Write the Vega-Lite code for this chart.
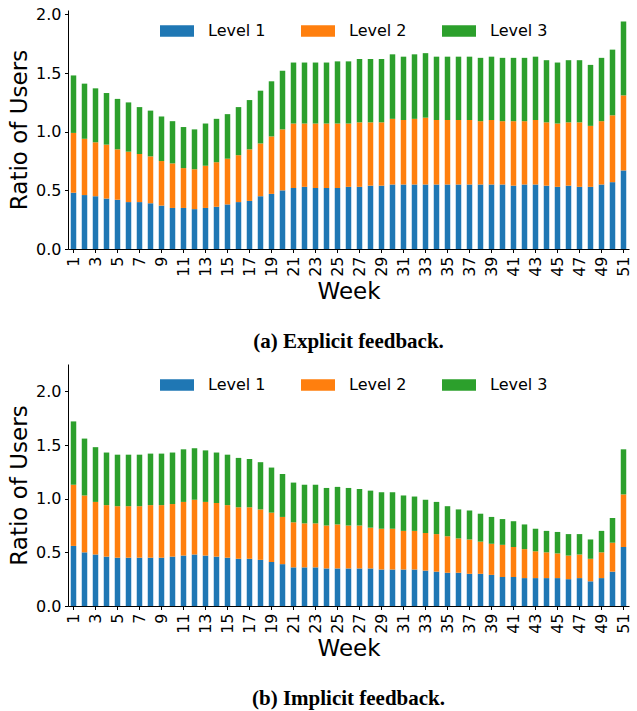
{
  "$schema": "https://vega.github.io/schema/vega-lite/v6.json",
  "background": "white",
  "padding": {"left": 8, "top": 6, "right": 5, "bottom": 0},
  "spacing": 11,
  "datasets": {
    "explicit": [
      {"week":1,"Level 1":0.48,"Level 2":0.51,"Level 3":0.49},
      {"week":2,"Level 1":0.46,"Level 2":0.48,"Level 3":0.47},
      {"week":3,"Level 1":0.45,"Level 2":0.46,"Level 3":0.46},
      {"week":4,"Level 1":0.43,"Level 2":0.46,"Level 3":0.44},
      {"week":5,"Level 1":0.42,"Level 2":0.43,"Level 3":0.43},
      {"week":6,"Level 1":0.40,"Level 2":0.43,"Level 3":0.42},
      {"week":7,"Level 1":0.40,"Level 2":0.41,"Level 3":0.40},
      {"week":8,"Level 1":0.39,"Level 2":0.40,"Level 3":0.39},
      {"week":9,"Level 1":0.37,"Level 2":0.38,"Level 3":0.38},
      {"week":10,"Level 1":0.35,"Level 2":0.38,"Level 3":0.36},
      {"week":11,"Level 1":0.35,"Level 2":0.34,"Level 3":0.35},
      {"week":12,"Level 1":0.34,"Level 2":0.34,"Level 3":0.34},
      {"week":13,"Level 1":0.35,"Level 2":0.36,"Level 3":0.36},
      {"week":14,"Level 1":0.36,"Level 2":0.38,"Level 3":0.37},
      {"week":15,"Level 1":0.38,"Level 2":0.39,"Level 3":0.38},
      {"week":16,"Level 1":0.40,"Level 2":0.40,"Level 3":0.41},
      {"week":17,"Level 1":0.41,"Level 2":0.44,"Level 3":0.42},
      {"week":18,"Level 1":0.45,"Level 2":0.45,"Level 3":0.45},
      {"week":19,"Level 1":0.47,"Level 2":0.49,"Level 3":0.47},
      {"week":20,"Level 1":0.50,"Level 2":0.52,"Level 3":0.50},
      {"week":21,"Level 1":0.52,"Level 2":0.55,"Level 3":0.52},
      {"week":22,"Level 1":0.53,"Level 2":0.54,"Level 3":0.52},
      {"week":23,"Level 1":0.52,"Level 2":0.55,"Level 3":0.52},
      {"week":24,"Level 1":0.52,"Level 2":0.55,"Level 3":0.52},
      {"week":25,"Level 1":0.52,"Level 2":0.55,"Level 3":0.53},
      {"week":26,"Level 1":0.53,"Level 2":0.54,"Level 3":0.53},
      {"week":27,"Level 1":0.53,"Level 2":0.55,"Level 3":0.54},
      {"week":28,"Level 1":0.54,"Level 2":0.54,"Level 3":0.54},
      {"week":29,"Level 1":0.54,"Level 2":0.54,"Level 3":0.54},
      {"week":30,"Level 1":0.55,"Level 2":0.56,"Level 3":0.55},
      {"week":31,"Level 1":0.55,"Level 2":0.55,"Level 3":0.54},
      {"week":32,"Level 1":0.55,"Level 2":0.56,"Level 3":0.55},
      {"week":33,"Level 1":0.55,"Level 2":0.57,"Level 3":0.55},
      {"week":34,"Level 1":0.55,"Level 2":0.55,"Level 3":0.54},
      {"week":35,"Level 1":0.55,"Level 2":0.55,"Level 3":0.54},
      {"week":36,"Level 1":0.55,"Level 2":0.55,"Level 3":0.54},
      {"week":37,"Level 1":0.55,"Level 2":0.55,"Level 3":0.54},
      {"week":38,"Level 1":0.55,"Level 2":0.54,"Level 3":0.54},
      {"week":39,"Level 1":0.55,"Level 2":0.55,"Level 3":0.54},
      {"week":40,"Level 1":0.55,"Level 2":0.54,"Level 3":0.54},
      {"week":41,"Level 1":0.54,"Level 2":0.55,"Level 3":0.54},
      {"week":42,"Level 1":0.55,"Level 2":0.54,"Level 3":0.54},
      {"week":43,"Level 1":0.55,"Level 2":0.55,"Level 3":0.54},
      {"week":44,"Level 1":0.54,"Level 2":0.54,"Level 3":0.53},
      {"week":45,"Level 1":0.53,"Level 2":0.54,"Level 3":0.52},
      {"week":46,"Level 1":0.54,"Level 2":0.54,"Level 3":0.53},
      {"week":47,"Level 1":0.53,"Level 2":0.55,"Level 3":0.53},
      {"week":48,"Level 1":0.53,"Level 2":0.52,"Level 3":0.52},
      {"week":49,"Level 1":0.55,"Level 2":0.54,"Level 3":0.54},
      {"week":50,"Level 1":0.57,"Level 2":0.57,"Level 3":0.56},
      {"week":51,"Level 1":0.67,"Level 2":0.64,"Level 3":0.63}
    ],
    "implicit": [
      {"week":1,"Level 1":0.56,"Level 2":0.57,"Level 3":0.59},
      {"week":2,"Level 1":0.50,"Level 2":0.53,"Level 3":0.53},
      {"week":3,"Level 1":0.48,"Level 2":0.49,"Level 3":0.51},
      {"week":4,"Level 1":0.46,"Level 2":0.48,"Level 3":0.49},
      {"week":5,"Level 1":0.45,"Level 2":0.48,"Level 3":0.48},
      {"week":6,"Level 1":0.45,"Level 2":0.48,"Level 3":0.48},
      {"week":7,"Level 1":0.45,"Level 2":0.48,"Level 3":0.48},
      {"week":8,"Level 1":0.45,"Level 2":0.49,"Level 3":0.48},
      {"week":9,"Level 1":0.45,"Level 2":0.49,"Level 3":0.48},
      {"week":10,"Level 1":0.46,"Level 2":0.49,"Level 3":0.48},
      {"week":11,"Level 1":0.47,"Level 2":0.50,"Level 3":0.49},
      {"week":12,"Level 1":0.48,"Level 2":0.51,"Level 3":0.48},
      {"week":13,"Level 1":0.47,"Level 2":0.50,"Level 3":0.48},
      {"week":14,"Level 1":0.46,"Level 2":0.50,"Level 3":0.47},
      {"week":15,"Level 1":0.45,"Level 2":0.49,"Level 3":0.47},
      {"week":16,"Level 1":0.44,"Level 2":0.48,"Level 3":0.46},
      {"week":17,"Level 1":0.44,"Level 2":0.48,"Level 3":0.45},
      {"week":18,"Level 1":0.43,"Level 2":0.47,"Level 3":0.44},
      {"week":19,"Level 1":0.41,"Level 2":0.46,"Level 3":0.42},
      {"week":20,"Level 1":0.39,"Level 2":0.44,"Level 3":0.40},
      {"week":21,"Level 1":0.36,"Level 2":0.42,"Level 3":0.37},
      {"week":22,"Level 1":0.36,"Level 2":0.41,"Level 3":0.36},
      {"week":23,"Level 1":0.36,"Level 2":0.41,"Level 3":0.36},
      {"week":24,"Level 1":0.35,"Level 2":0.40,"Level 3":0.35},
      {"week":25,"Level 1":0.35,"Level 2":0.41,"Level 3":0.35},
      {"week":26,"Level 1":0.35,"Level 2":0.40,"Level 3":0.35},
      {"week":27,"Level 1":0.35,"Level 2":0.40,"Level 3":0.34},
      {"week":28,"Level 1":0.35,"Level 2":0.38,"Level 3":0.345},
      {"week":29,"Level 1":0.34,"Level 2":0.38,"Level 3":0.34},
      {"week":30,"Level 1":0.34,"Level 2":0.38,"Level 3":0.34},
      {"week":31,"Level 1":0.34,"Level 2":0.36,"Level 3":0.33},
      {"week":32,"Level 1":0.34,"Level 2":0.36,"Level 3":0.32},
      {"week":33,"Level 1":0.33,"Level 2":0.35,"Level 3":0.31},
      {"week":34,"Level 1":0.32,"Level 2":0.35,"Level 3":0.30},
      {"week":35,"Level 1":0.31,"Level 2":0.34,"Level 3":0.28},
      {"week":36,"Level 1":0.31,"Level 2":0.32,"Level 3":0.27},
      {"week":37,"Level 1":0.30,"Level 2":0.32,"Level 3":0.27},
      {"week":38,"Level 1":0.30,"Level 2":0.30,"Level 3":0.26},
      {"week":39,"Level 1":0.29,"Level 2":0.29,"Level 3":0.25},
      {"week":40,"Level 1":0.27,"Level 2":0.30,"Level 3":0.24},
      {"week":41,"Level 1":0.27,"Level 2":0.28,"Level 3":0.24},
      {"week":42,"Level 1":0.26,"Level 2":0.27,"Level 3":0.23},
      {"week":43,"Level 1":0.26,"Level 2":0.25,"Level 3":0.21},
      {"week":44,"Level 1":0.26,"Level 2":0.24,"Level 3":0.20},
      {"week":45,"Level 1":0.26,"Level 2":0.23,"Level 3":0.20},
      {"week":46,"Level 1":0.25,"Level 2":0.22,"Level 3":0.20},
      {"week":47,"Level 1":0.26,"Level 2":0.22,"Level 3":0.19},
      {"week":48,"Level 1":0.23,"Level 2":0.21,"Level 3":0.18},
      {"week":49,"Level 1":0.26,"Level 2":0.24,"Level 3":0.20},
      {"week":50,"Level 1":0.32,"Level 2":0.27,"Level 3":0.23},
      {"week":51,"Level 1":0.55,"Level 2":0.49,"Level 3":0.42}
    ]
  },
  "config": {
    "view": {"stroke": null},
    "font": "DejaVu Sans",
    "axis": {
      "grid": false,
      "domainColor": "black",
      "domainWidth": 1,
      "tickColor": "black",
      "tickWidth": 1,
      "tickSize": 3.5,
      "labelPadding": 3.5,
      "labelFont": "DejaVu Sans",
      "labelFontSize": 16,
      "labelColor": "black",
      "titleFont": "DejaVu Sans",
      "titleFontSize": 23,
      "titleFontWeight": "normal",
      "titleColor": "black"
    },
    "legend": {
      "orient": "none",
      "direction": "horizontal",
      "title": null,
      "padding": 0,
      "labelFont": "DejaVu Sans",
      "labelFontSize": 16,
      "labelColor": "black",
      "labelOffset": 14,
      "columnPadding": 35,
      "symbolType": "M-1,-0.345H1V0.345H-1Z",
      "symbolSize": 1156,
      "symbolStrokeWidth": 0,
      "symbolOpacity": 1
    },
    "title": {
      "font": "Liberation Serif",
      "fontWeight": "bold",
      "fontSize": 21,
      "color": "black"
    }
  },
  "resolve": {"legend": {"color": "independent"}, "scale": {"y": "independent"}},
  "vconcat": [
    {
      "width": 561,
      "height": 239,
      "title": {"text": "(a) Explicit feedback.", "orient": "bottom", "anchor": "middle", "offset": 28},
      "data": {"name": "explicit"},
      "transform": [{"fold": ["Level 1", "Level 2", "Level 3"], "as": ["level", "value"]}],
      "mark": {"type": "bar", "opacity": 1},
      "encoding": {
        "x": {"field": "week", "type": "ordinal",
              "scale": {"paddingInner": 0.5, "paddingOuter": 0.25},
              "axis": {"values": [1,3,5,7,9,11,13,15,17,19,21,23,25,27,29,31,33,35,37,39,41,43,45,47,49,51],
                       "labelAngle": -90, "title": "Week", "titlePadding": 4}},
        "y": {"field": "value", "type": "quantitative", "stack": "zero",
              "scale": {"domain": [0, 2.038], "nice": false, "zero": true},
              "axis": {"values": [0, 0.5, 1, 1.5, 2], "format": ".1f", "title": "Ratio of Users", "titlePadding": 4}},
        "color": {"field": "level", "type": "nominal",
                  "scale": {"domain": ["Level 1", "Level 2", "Level 3"], "range": ["#1f77b4", "#ff7f0e", "#2ca02c"]},
                  "legend": {"legendX": 92, "legendY": 4}},
        "order": {"field": "level", "sort": "ascending"}
      }
    },
    {
      "width": 561,
      "height": 242,
      "title": {"text": "(b) Implicit feedback.", "orient": "bottom", "anchor": "middle", "offset": 28},
      "data": {"name": "implicit"},
      "transform": [{"fold": ["Level 1", "Level 2", "Level 3"], "as": ["level", "value"]}],
      "mark": {"type": "bar", "opacity": 1},
      "encoding": {
        "x": {"field": "week", "type": "ordinal",
              "scale": {"paddingInner": 0.5, "paddingOuter": 0.25},
              "axis": {"values": [1,3,5,7,9,11,13,15,17,19,21,23,25,27,29,31,33,35,37,39,41,43,45,47,49,51],
                       "labelAngle": -90, "title": "Week", "titlePadding": 4}},
        "y": {"field": "value", "type": "quantitative", "stack": "zero",
              "scale": {"domain": [0, 2.255], "nice": false, "zero": true},
              "axis": {"values": [0, 0.5, 1, 1.5, 2], "format": ".1f", "title": "Ratio of Users", "titlePadding": 4}},
        "color": {"field": "level", "type": "nominal",
                  "scale": {"domain": ["Level 1", "Level 2", "Level 3"], "range": ["#1f77b4", "#ff7f0e", "#2ca02c"]},
                  "legend": {"legendX": 92, "legendY": 4}},
        "order": {"field": "level", "sort": "ascending"}
      }
    }
  ]
}
